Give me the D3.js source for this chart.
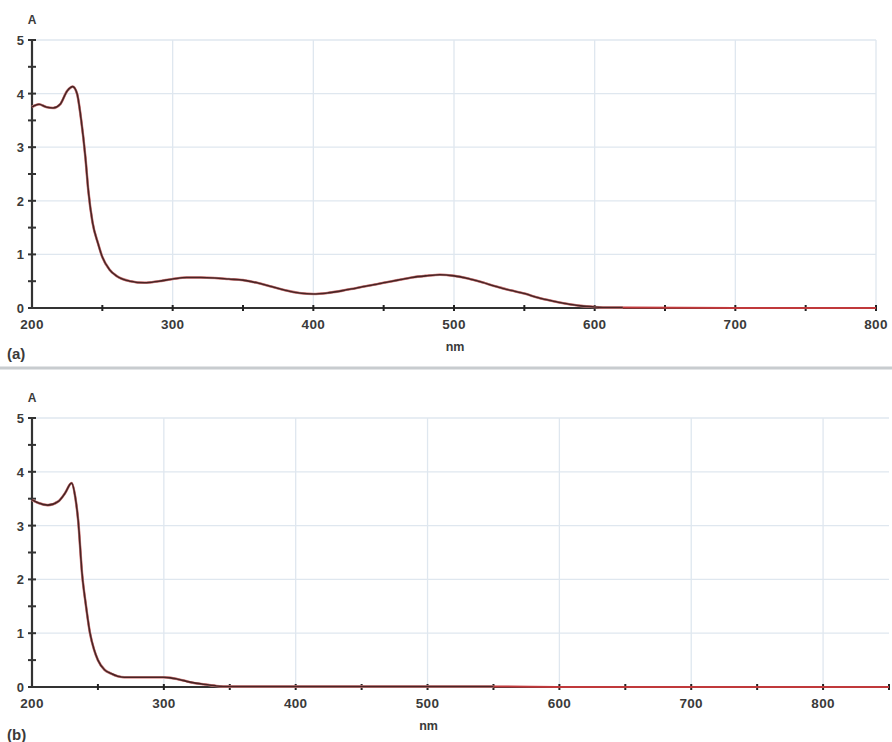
<!DOCTYPE html>
<html><head><meta charset="utf-8">
<script src="https://cdn.jsdelivr.net/npm/d3@7"></script>
<style>
html,body{margin:0;padding:0;background:#fff;}
svg{display:block;}
text{font-family:"Liberation Sans",Arial,sans-serif;font-weight:bold;fill:#3a3a3a;}
</style></head>
<body>
<svg id="c" width="892" height="742"></svg>
<script>
// Panel (a) spectrum
const nmA = [200,205,210,215,220,225,229,232,235,238,240,243,247,250,255,260,270,280,290,300,310,320,330,340,350,360,370,380,390,400,410,420,430,440,450,460,470,480,490,500,510,520,530,540,550,560,570,580,590,600,610,620,700,800];
const absA = [3.75,3.8,3.75,3.73,3.8,4.05,4.13,4.0,3.5,2.8,2.2,1.6,1.2,0.95,0.72,0.6,0.5,0.47,0.5,0.54,0.57,0.57,0.56,0.54,0.52,0.47,0.4,0.33,0.28,0.26,0.28,0.32,0.37,0.42,0.47,0.52,0.57,0.6,0.62,0.6,0.55,0.48,0.4,0.33,0.27,0.19,0.13,0.08,0.04,0.02,0.01,0.01,0,0];
// Panel (b) spectrum
const nmB = [200,205,212,220,225,230,233,235,238,241,244,247,250,255,260,265,270,280,290,300,305,310,320,330,340,350,400,450,500,550,600,700,800,850];
const absB = [3.48,3.42,3.38,3.45,3.6,3.79,3.5,3.1,2.1,1.5,1.0,0.7,0.5,0.32,0.25,0.2,0.18,0.18,0.18,0.18,0.17,0.15,0.09,0.05,0.02,0.01,0.01,0.01,0.01,0.01,0,0,0,0];

const xTicksA = [200,300,400,500,600,700,800];
const xTicksB = [200,300,400,500,600,700,800];
const yTicks = [0,1,2,3,4,5];
const panelLabels = ["(a)","(b)"];
const xTitle = "nm", yTitle = "A";

const svg = d3.select("#c");

function panel(cfg){
  const g = svg.append("g");
  const x = d3.scaleLinear().domain(cfg.xDomain).range(cfg.xRange);
  const y = d3.scaleLinear().domain([0,5]).range(cfg.yRange);
  // grid
  g.append("g").selectAll("line").data(cfg.xGrid).join("line")
    .attr("x1",d=>x(d)).attr("x2",d=>x(d)).attr("y1",y(0)).attr("y2",y(5))
    .attr("stroke","#dfe7ef").attr("stroke-width",1.3);
  g.append("g").selectAll("line").data(yTicks.slice(1)).join("line")
    .attr("x1",x(cfg.xDomain[0])).attr("x2",x(cfg.xDomain[1])).attr("y1",d=>y(d)).attr("y2",d=>y(d))
    .attr("stroke","#dfe7ef").attr("stroke-width",1.3);
  // axes lines
  g.append("line").attr("x1",x(cfg.xDomain[0])).attr("x2",x(cfg.xDomain[0]))
    .attr("y1",y(0)).attr("y2",y(5)).attr("stroke","#333").attr("stroke-width",2.2);
  g.append("line").attr("x1",x(cfg.xDomain[0])).attr("x2",x(cfg.xDomain[1]))
    .attr("y1",y(0)).attr("y2",y(0)).attr("stroke","#333").attr("stroke-width",2.2);
  // y ticks (major + minor)
  const yAll = d3.range(0,5.01,0.5);
  g.append("g").selectAll("line").data(yAll).join("line")
    .attr("x1",x(cfg.xDomain[0])-4).attr("x2",x(cfg.xDomain[0])+4)
    .attr("y1",d=>y(d)).attr("y2",d=>y(d)).attr("stroke","#333").attr("stroke-width",2);
  g.append("g").selectAll("text").data(yTicks).join("text")
    .attr("x",x(cfg.xDomain[0])-8).attr("y",d=>y(d)+5).attr("text-anchor","end")
    .attr("font-size",13).text(d=>d);
  // x ticks
  const xAll = d3.range(cfg.xDomain[0],cfg.xDomain[1]+1,50);
  g.append("g").selectAll("line").data(xAll.slice(1)).join("line")
    .attr("x1",d=>x(d)).attr("x2",d=>x(d)).attr("y1",y(0)-3).attr("y2",y(0)+3)
    .attr("stroke","#222").attr("stroke-width",2);
  g.append("g").selectAll("text").data(cfg.xTicks).join("text")
    .attr("x",d=>x(d)).attr("y",y(0)+21).attr("text-anchor","middle")
    .attr("font-size",13.5).attr("letter-spacing",0.3).text(d=>d);
  // titles
  g.append("text").attr("x",x(cfg.xDomain[0])).attr("y",y(5)-16).attr("text-anchor","middle")
    .attr("font-size",12).text(yTitle);
  g.append("text").attr("x",x(500)+1).attr("y",y(0)+43).attr("text-anchor","middle")
    .attr("font-size",12.5).text(xTitle);
  g.append("text").attr("x",7).attr("y",cfg.labelY).attr("font-size",15).attr("fill","#222").text(cfg.label);
  // curve
  const line = d3.line().x((d,i)=>x(cfg.nm[i])).y(d=>y(d)).curve(d3.curveMonotoneX);
  g.append("path").datum(cfg.abs).attr("d",line).attr("fill","none")
    .attr("stroke","#c0393b").attr("stroke-width",2);
  const k = cfg.nm.findIndex(v=>v>=cfg.darkEnd);
  g.append("path").datum(cfg.abs.slice(0,k+1)).attr("d",line).attr("fill","none")
    .attr("stroke","#d79090").attr("stroke-width",2.6);
  g.append("path").datum(cfg.abs.slice(0,k+1)).attr("d",line).attr("fill","none")
    .attr("stroke","#4a2424").attr("stroke-width",1.6);
}

panel({xDomain:[200,800], xRange:[32,876], yRange:[308,40], xGrid:[300,400,500,600,700,800],
  xTicks:xTicksA, nm:nmA, abs:absA, darkEnd:620, label:panelLabels[0], labelY:359});
// separator
svg.append("line").attr("x1",0).attr("x2",892).attr("y1",368).attr("y2",368)
  .attr("stroke","#c8cccf").attr("stroke-width",3);
panel({xDomain:[200,850], xRange:[32,889], yRange:[687,418], xGrid:[300,400,500,600,700,800],
  xTicks:xTicksB, nm:nmB, abs:absB, darkEnd:550, label:panelLabels[1], labelY:740});
</script>
</body></html>
